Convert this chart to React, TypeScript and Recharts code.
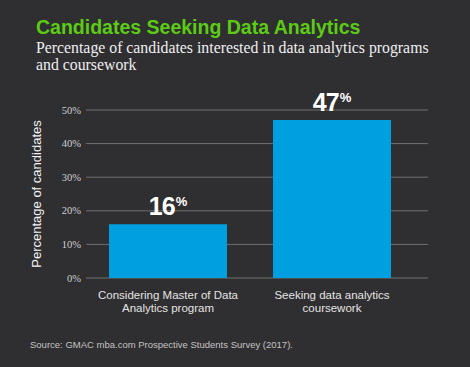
import { Bar, BarChart, CartesianGrid, LabelList, XAxis, YAxis } from "recharts";

const BG = "#2f2e30";
const GREEN = "#5ccb16";
const BAR_BLUE = "#00a0e0";
const GRID = "#707070";

const categories = ["Considering Master of Data Analytics program", "Seeking data analytics coursework"];
const categoryLines = [
  ["Considering Master of Data", "Analytics program"],
  ["Seeking data analytics", "coursework"],
];
const values = [16, 47];
const yTicks = [0, 10, 20, 30, 40, 50];

const data = categories.map((name, i) => ({ name, value: values[i] }));

function CategoryTick({ x = 0, y = 0, index = 0 }: { x?: number; y?: number; index?: number }) {
  const lines = categoryLines[index] ?? [];
  return (
    <text
      x={x}
      y={y}
      textAnchor="middle"
      fill="#e4e4e4"
      fontSize={11.5}
      style={{ fontFamily: "'Liberation Sans', Arial, sans-serif" }}
    >
      {lines.map((line, i) => (
        <tspan key={i} x={x} dy={i === 0 ? 13 : 12.5}>
          {line}
        </tspan>
      ))}
    </text>
  );
}

function PercentTick({ x = 0, y = 0, payload }: { x?: number; y?: number; payload?: { value: number } }) {
  return (
    <text
      x={x}
      y={y}
      dy={3.5}
      textAnchor="end"
      fill="#d0d0d0"
      fontSize={10.5}
      style={{ fontFamily: "'Liberation Serif', 'Times New Roman', serif" }}
    >
      {`${payload?.value ?? ""}%`}
    </text>
  );
}

function ValueLabel(props: any) {
  const { x = 0, y = 0, width = 0, value } = props;
  return (
    <text
      x={x + width / 2}
      y={y - 9}
      textAnchor="middle"
      fill="#ffffff"
      fontWeight={700}
      style={{ fontFamily: "'Liberation Sans', Arial, sans-serif" }}
    >
      <tspan fontSize={25} letterSpacing={-1}>{value}</tspan>
      <tspan fontSize={13} fontWeight={600} dy={-9} dx={1}>%</tspan>
    </text>
  );
}

function AxisTitle(props: any) {
  const { viewBox } = props;
  const cy = viewBox.y + viewBox.height / 2;
  const cx = viewBox.x + 12;
  return (
    <text
      x={cx}
      y={cy}
      transform={`rotate(-90 ${cx} ${cy})`}
      textAnchor="middle"
      dominantBaseline="middle"
      fill="#f2f2f2"
      fontSize={13}
      style={{ fontFamily: "'Liberation Sans', Arial, sans-serif" }}
    >
      Percentage of candidates
    </text>
  );
}

export default function App() {
  return (
    <div
      style={{
        position: "absolute",
        left: 0,
        top: 0,
        width: 470,
        height: 367,
        background: BG,
        overflow: "hidden",
      }}
    >
      <div
        style={{
          position: "absolute",
          left: 36,
          top: 16,
          color: GREEN,
          fontFamily: "'Liberation Sans', Arial, sans-serif",
          fontWeight: 700,
          fontSize: 19.5,
          whiteSpace: "nowrap",
        }}
      >
        Candidates Seeking Data Analytics
      </div>
      <div
        style={{
          position: "absolute",
          left: 36,
          top: 39,
          width: 402,
          color: "#f0f0f0",
          fontFamily: "'Liberation Serif', 'Times New Roman', serif",
          fontSize: 15.8,
          lineHeight: "17px",
        }}
      >
        Percentage of candidates interested in data analytics programs and coursework
      </div>

      <div style={{ position: "absolute", left: 0, top: 80 }}>
        <BarChart width={470} height={240} data={data} margin={{ top: 30, right: 42, left: 26, bottom: 0 }}>
          <CartesianGrid horizontal vertical={false} stroke={GRID} strokeWidth={1} />
          <XAxis
            dataKey="name"
            axisLine={false}
            tickLine={false}
            height={42}
            padding={{ left: 0, right: 14 }}
            interval={0}
            tick={<CategoryTick />}
          />
          <YAxis
            width={60}
            domain={[0, 50]}
            ticks={yTicks}
            axisLine={false}
            tickLine={false}
            tickSize={3}
            tickMargin={2}
            tick={<PercentTick />}
            label={<AxisTitle />}
          />
          <Bar dataKey="value" fill={BAR_BLUE} barSize={118} isAnimationActive={false}>
            <LabelList dataKey="value" content={<ValueLabel />} />
          </Bar>
        </BarChart>
      </div>

      <div
        style={{
          position: "absolute",
          left: 30,
          top: 339,
          color: "#c4c4c4",
          fontFamily: "'Liberation Sans', Arial, sans-serif",
          fontSize: 9.5,
          whiteSpace: "nowrap",
        }}
      >
        Source: GMAC mba.com Prospective Students Survey (2017).
      </div>
    </div>
  );
}
